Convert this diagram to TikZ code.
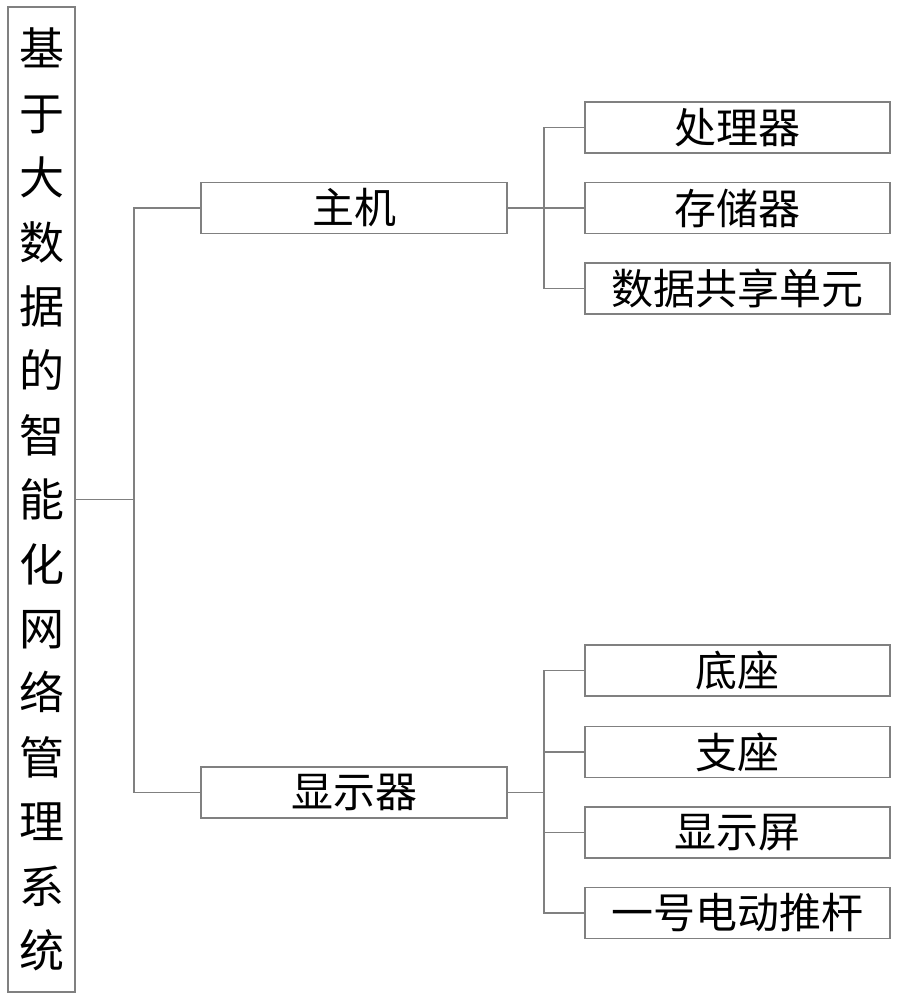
\documentclass[tikz,border=0pt]{standalone}
\usepackage{fontspec}
\newfontfamily\cjk{Noto Sans CJK SC}
\definecolor{linegray}{RGB}{128,128,128}

\begin{document}
\begin{tikzpicture}[x=1pt,y=1pt]
		\tikzstyle{BoxStyle}  = [shape=rectangle, draw=linegray, line width=1.4pt, inner sep=0pt, minimum height=51pt, font=\cjk\fontsize{42}{42}\selectfont]
		\tikzstyle{EdgeStyle} = [draw=linegray, line width=1.4pt]
		\useasboundingbox (0,0) rectangle (901,-1000);

		\node[BoxStyle, minimum width=67pt, minimum height=985pt, align=center, font=\cjk\fontsize{45}{64.4}\selectfont] (System) at (41.5,-499.5)
			{基\\于\\大\\数\\据\\的\\智\\能\\化\\网\\络\\管\\理\\系\\统};
		\node[BoxStyle, minimum width=306pt] (Host) at (354,-208) {主机};
		\node[BoxStyle, minimum width=306pt] (Display) at (354,-792.5) {显示器};
		\node[BoxStyle, minimum width=305pt] (Processor) at (737.5,-127.5) {处理器};
		\node[BoxStyle, minimum width=305pt] (Storage) at (737.5,-208) {存储器};
		\node[BoxStyle, minimum width=305pt] (Share) at (737.5,-288.5) {数据共享单元};
		\node[BoxStyle, minimum width=305pt] (Base) at (737.5,-670.5) {底座};
		\node[BoxStyle, minimum width=305pt] (Support) at (737.5,-752) {支座};
		\node[BoxStyle, minimum width=305pt] (Screen) at (737.5,-832.5) {显示屏};
		\node[BoxStyle, minimum width=305pt] (Pusher) at (737.5,-913) {一号电动推杆};

		\coordinate (Trunk) at (134,-499.5);
		\coordinate (HostBus) at (544,-208);
		\coordinate (DispBus) at (544,-792.5);
		\draw[EdgeStyle] (System.east) -- (Trunk);
		\draw[EdgeStyle] (Host.west) -| (Trunk) |- (Display.west);
		\draw[EdgeStyle] (Host.east) -- (Storage.west);
		\draw[EdgeStyle] (Processor.west) -| (HostBus) |- (Share.west);
		\draw[EdgeStyle] (Display.east) -- (DispBus);
		\draw[EdgeStyle] (Base.west) -| (DispBus) |- (Pusher.west);
		\draw[EdgeStyle] (Support.west) -- (Support.west -| DispBus);
		\draw[EdgeStyle] (Screen.west) -- (Screen.west -| DispBus);
	\end{tikzpicture}
\end{document}
